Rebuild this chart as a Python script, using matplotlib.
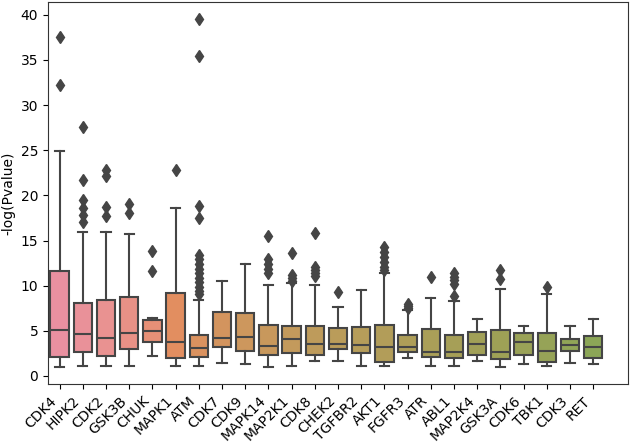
import colorsys
import matplotlib
matplotlib.use("Agg")
import matplotlib.pyplot as plt
import seaborn as sns

kinases = ["CDK4", "HIPK2", "CDK2", "GSK3B", "CHUK", "MAPK1", "ATM", "CDK7", "CDK9",
           "MAPK14", "MAP2K1", "CDK8", "CHEK2", "TGFBR2", "AKT1", "FGFR3", "ATR", "ABL1",
           "MAP2K4", "GSK3A", "CDK6", "TBK1", "CDK3", "RET"]

whisker_low = [1.03, 1.14, 1.14, 1.14, 2.2, 1.14, 1.14, 1.4, 1.32,
               1.03, 1.14, 1.6, 1.69, 1.1, 1.1, 2.02, 1.1, 1.1,
               1.69, 1.03, 1.29, 1.14, 1.4, 1.32]
q1 = [2.1, 2.7, 2.2, 2.98, 3.72, 1.95, 2.06, 3.24, 2.76,
      2.35, 2.5, 2.32, 2.94, 2.58, 1.58, 2.69, 2.06, 2.02,
      2.32, 1.88, 2.32, 1.51, 2.8, 2.02]
median = [5.07, 4.6, 4.23, 4.71, 5.0, 3.72, 3.05, 4.16, 4.27,
          3.31, 4.08, 3.53, 3.53, 3.42, 3.24, 3.24, 2.69, 2.61,
          3.49, 2.61, 3.75, 2.8, 3.42, 3.24]
q3 = [11.6, 8.05, 8.4, 8.76, 6.25, 9.2, 4.56, 7.1, 6.99,
      5.63, 5.52, 5.5, 5.26, 5.45, 5.59, 4.52, 5.19, 4.52,
      4.89, 5.08, 4.71, 4.78, 4.05, 4.41]
whisker_high = [24.9, 16.0, 16.0, 15.7, 6.47, 18.6, 8.39, 10.5, 12.4,
                10.1, 10.3, 10.05, 7.65, 9.56, 11.4, 7.28, 8.68, 8.28,
                6.29, 9.6, 5.56, 9.05, 5.56, 6.36]
outliers = [
    [37.6, 32.2],
    [27.6, 21.7, 19.5, 18.6, 17.8, 17.0],
    [22.8, 22.1, 18.7, 17.7],
    [19.0, 18.1],
    [13.8, 11.6],
    [22.85],
    [39.5, 35.4, 18.8, 17.5, 13.4, 12.9, 12.4, 11.9, 11.4, 10.9, 10.4, 9.9, 9.4, 9.1],
    [],
    [],
    [15.45, 13.0, 12.4, 11.9, 11.4],
    [13.6, 11.2, 10.8, 10.5],
    [15.8, 12.1, 11.7, 11.4, 11.1],
    [9.3],
    [],
    [14.3, 13.7, 13.2, 12.6, 12.1, 11.7],
    [8.0, 7.75, 7.5],
    [10.96],
    [11.4, 11.0, 10.6, 10.2, 8.9],
    [],
    [11.77, 10.7],
    [],
    [9.86],
    [],
    [],
]

y_label = "-log(Pvalue)"

# palette (seaborn husl, desaturated as seaborn boxplot does, slightly lightened)
base = sns.color_palette("husl", 80)[:len(kinases)]
colors = []
for c in base:
    d = sns.desaturate(c, 0.75)
    colors.append(tuple(0.88 * v + 0.12 for v in d))
gray = (0.27, 0.27, 0.27)

stats = []
for i, k in enumerate(kinases):
    stats.append(dict(label=k, whislo=whisker_low[i], q1=q1[i], med=median[i],
                      q3=q3[i], whishi=whisker_high[i], fliers=outliers[i]))

fig = plt.figure(figsize=(6.3, 4.42), dpi=100)
ax = fig.add_axes([48 / 630, 1 - 384 / 442, 580 / 630, 382 / 442])

lw = 1.5
bp = ax.bxp(stats, positions=range(len(kinases)), widths=0.8, patch_artist=True,
            boxprops=dict(edgecolor=gray, linewidth=lw),
            whiskerprops=dict(color=gray, linewidth=lw),
            capprops=dict(color=gray, linewidth=lw),
            medianprops=dict(color=gray, linewidth=lw),
            flierprops=dict(marker="d", markerfacecolor=gray, markeredgecolor=gray,
                            markersize=6, linestyle="none"))
for patch, c in zip(bp["boxes"], colors):
    patch.set_facecolor(c)

ax.set_xlim(-0.5, len(kinases) + 0.5)
ax.set_xticks(range(len(kinases)))
ax.set_xticklabels(kinases, rotation=45, ha="right", fontsize=10)
ax.set_ylabel(y_label, fontsize=10)
ax.set_yticks([0, 5, 10, 15, 20, 25, 30, 35, 40])
ax.tick_params(axis="y", labelsize=10)
for s in ax.spines.values():
    s.set_color("#333333")

fig.savefig("out.png", dpi=100)
